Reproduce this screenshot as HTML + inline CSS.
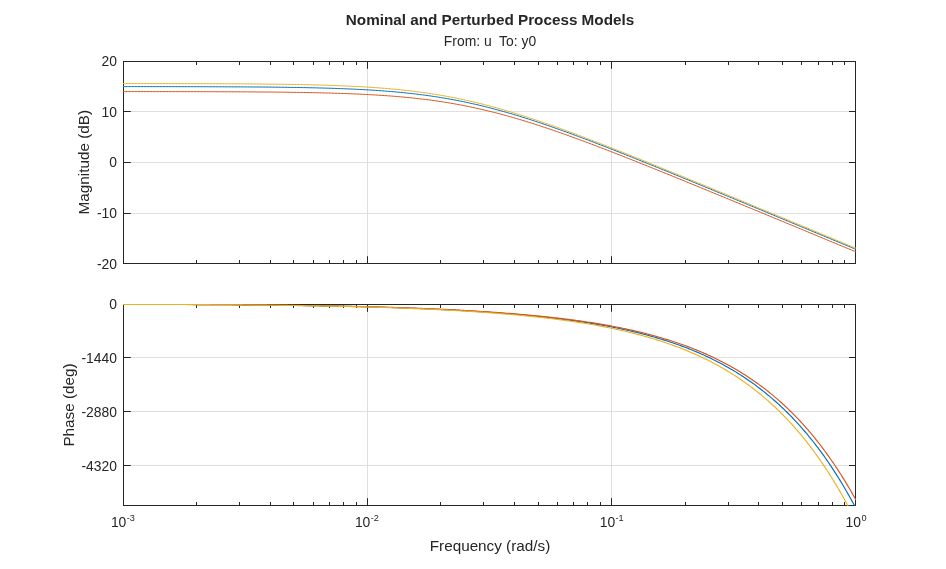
<!DOCTYPE html>
<html lang="en"><head><meta charset="utf-8"><title>Nominal and Perturbed Process Models</title>
<style>html,body{margin:0;padding:0;background:#fff;}body{width:946px;height:569px;overflow:hidden;}svg{display:block;}text{font-family:"Liberation Sans",sans-serif;fill:#262626;}</style></head><body>
<svg width="946" height="569" viewBox="0 0 946 569">
<rect width="946" height="569" fill="#fff"/>
<defs><clipPath id="c1"><rect x="123.0" y="61.0" width="733.0" height="203.0"/></clipPath><clipPath id="c2"><rect x="123.0" y="304.0" width="733.0" height="202.0"/></clipPath></defs>
<path d="M367.5,61.5 V263.5 M611.5,61.5 V263.5 M123.5,111.5 H855.5 M123.5,162.5 H855.5 M123.5,213.5 H855.5" stroke="#dfdfdf" stroke-width="1" fill="none" shape-rendering="crispEdges"/>
<path d="M123.5,61.5 H855.5 V263.5 H123.5 Z" stroke="#262626" stroke-width="1" fill="none" shape-rendering="crispEdges"/>
<path d="M123.5,264.0 v-7.8 M123.5,61.0 v7.8 M196.5,264.0 v-4.0 M196.5,61.0 v4.0 M239.5,264.0 v-4.0 M239.5,61.0 v4.0 M270.5,264.0 v-4.0 M270.5,61.0 v4.0 M293.5,264.0 v-4.0 M293.5,61.0 v4.0 M313.5,264.0 v-4.0 M313.5,61.0 v4.0 M329.5,264.0 v-4.0 M329.5,61.0 v4.0 M343.5,264.0 v-4.0 M343.5,61.0 v4.0 M356.5,264.0 v-4.0 M356.5,61.0 v4.0 M367.5,264.0 v-7.8 M367.5,61.0 v7.8 M440.5,264.0 v-4.0 M440.5,61.0 v4.0 M483.5,264.0 v-4.0 M483.5,61.0 v4.0 M514.5,264.0 v-4.0 M514.5,61.0 v4.0 M538.5,264.0 v-4.0 M538.5,61.0 v4.0 M557.5,264.0 v-4.0 M557.5,61.0 v4.0 M573.5,264.0 v-4.0 M573.5,61.0 v4.0 M587.5,264.0 v-4.0 M587.5,61.0 v4.0 M600.5,264.0 v-4.0 M600.5,61.0 v4.0 M611.5,264.0 v-7.8 M611.5,61.0 v7.8 M685.5,264.0 v-4.0 M685.5,61.0 v4.0 M728.5,264.0 v-4.0 M728.5,61.0 v4.0 M758.5,264.0 v-4.0 M758.5,61.0 v4.0 M782.5,264.0 v-4.0 M782.5,61.0 v4.0 M801.5,264.0 v-4.0 M801.5,61.0 v4.0 M818.5,264.0 v-4.0 M818.5,61.0 v4.0 M832.5,264.0 v-4.0 M832.5,61.0 v4.0 M844.5,264.0 v-4.0 M844.5,61.0 v4.0 M855.5,264.0 v-7.8 M855.5,61.0 v7.8 M123.0,61.5 h7.8 M856.0,61.5 h-7.0 M123.0,111.5 h7.8 M856.0,111.5 h-7.0 M123.0,162.5 h7.8 M856.0,162.5 h-7.0 M123.0,213.5 h7.8 M856.0,213.5 h-7.0 M123.0,263.5 h7.8 M856.0,263.5 h-7.0" stroke="#262626" stroke-width="1" fill="none"/>
<g clip-path="url(#c1)" fill="none" stroke-width="1.00" stroke-linejoin="round">
<path d="M122.90,86.59 L124.37,86.60 L125.84,86.60 L127.31,86.60 L128.78,86.60 L130.25,86.60 L131.72,86.60 L133.18,86.60 L134.65,86.60 L136.12,86.60 L137.59,86.61 L139.06,86.61 L140.53,86.61 L142.00,86.61 L143.47,86.61 L144.94,86.61 L146.41,86.61 L147.88,86.62 L149.35,86.62 L150.82,86.62 L152.28,86.62 L153.75,86.62 L155.22,86.62 L156.69,86.63 L158.16,86.63 L159.63,86.63 L161.10,86.63 L162.57,86.63 L164.04,86.64 L165.51,86.64 L166.98,86.64 L168.45,86.64 L169.92,86.65 L171.38,86.65 L172.85,86.65 L174.32,86.65 L175.79,86.66 L177.26,86.66 L178.73,86.66 L180.20,86.66 L181.67,86.67 L183.14,86.67 L184.61,86.67 L186.08,86.68 L187.55,86.68 L189.02,86.68 L190.48,86.69 L191.95,86.69 L193.42,86.69 L194.89,86.70 L196.36,86.70 L197.83,86.70 L199.30,86.71 L200.77,86.71 L202.24,86.72 L203.71,86.72 L205.18,86.73 L206.65,86.73 L208.12,86.74 L209.59,86.74 L211.05,86.75 L212.52,86.75 L213.99,86.76 L215.46,86.76 L216.93,86.77 L218.40,86.77 L219.87,86.78 L221.34,86.79 L222.81,86.79 L224.28,86.80 L225.75,86.80 L227.22,86.81 L228.69,86.82 L230.15,86.83 L231.62,86.83 L233.09,86.84 L234.56,86.85 L236.03,86.86 L237.50,86.87 L238.97,86.87 L240.44,86.88 L241.91,86.89 L243.38,86.90 L244.85,86.91 L246.32,86.92 L247.79,86.93 L249.25,86.94 L250.72,86.95 L252.19,86.96 L253.66,86.97 L255.13,86.99 L256.60,87.00 L258.07,87.01 L259.54,87.02 L261.01,87.03 L262.48,87.05 L263.95,87.06 L265.42,87.08 L266.89,87.09 L268.35,87.10 L269.82,87.12 L271.29,87.13 L272.76,87.15 L274.23,87.17 L275.70,87.18 L277.17,87.20 L278.64,87.22 L280.11,87.24 L281.58,87.26 L283.05,87.28 L284.52,87.30 L285.99,87.32 L287.45,87.34 L288.92,87.36 L290.39,87.38 L291.86,87.40 L293.33,87.43 L294.80,87.45 L296.27,87.47 L297.74,87.50 L299.21,87.52 L300.68,87.55 L302.15,87.58 L303.62,87.61 L305.09,87.64 L306.55,87.66 L308.02,87.70 L309.49,87.73 L310.96,87.76 L312.43,87.79 L313.90,87.82 L315.37,87.86 L316.84,87.89 L318.31,87.93 L319.78,87.97 L321.25,88.01 L322.72,88.05 L324.19,88.09 L325.65,88.13 L327.12,88.17 L328.59,88.21 L330.06,88.26 L331.53,88.30 L333.00,88.35 L334.47,88.40 L335.94,88.45 L337.41,88.50 L338.88,88.55 L340.35,88.60 L341.82,88.66 L343.29,88.72 L344.76,88.77 L346.22,88.83 L347.69,88.89 L349.16,88.96 L350.63,89.02 L352.10,89.08 L353.57,89.15 L355.04,89.22 L356.51,89.29 L357.98,89.36 L359.45,89.44 L360.92,89.51 L362.39,89.59 L363.86,89.67 L365.32,89.75 L366.79,89.83 L368.26,89.92 L369.73,90.00 L371.20,90.09 L372.67,90.19 L374.14,90.28 L375.61,90.38 L377.08,90.47 L378.55,90.57 L380.02,90.68 L381.49,90.78 L382.96,90.89 L384.42,91.00 L385.89,91.11 L387.36,91.23 L388.83,91.35 L390.30,91.47 L391.77,91.59 L393.24,91.71 L394.71,91.84 L396.18,91.98 L397.65,92.11 L399.12,92.25 L400.59,92.39 L402.06,92.53 L403.52,92.68 L404.99,92.83 L406.46,92.98 L407.93,93.13 L409.40,93.29 L410.87,93.46 L412.34,93.62 L413.81,93.79 L415.28,93.96 L416.75,94.14 L418.22,94.32 L419.69,94.50 L421.16,94.69 L422.62,94.88 L424.09,95.07 L425.56,95.27 L427.03,95.47 L428.50,95.67 L429.97,95.88 L431.44,96.10 L432.91,96.31 L434.38,96.53 L435.85,96.76 L437.32,96.98 L438.79,97.22 L440.26,97.45 L441.72,97.69 L443.19,97.94 L444.66,98.18 L446.13,98.44 L447.60,98.69 L449.07,98.95 L450.54,99.22 L452.01,99.49 L453.48,99.76 L454.95,100.04 L456.42,100.32 L457.89,100.60 L459.36,100.89 L460.82,101.19 L462.29,101.48 L463.76,101.79 L465.23,102.09 L466.70,102.40 L468.17,102.72 L469.64,103.04 L471.11,103.36 L472.58,103.69 L474.05,104.02 L475.52,104.36 L476.99,104.70 L478.46,105.04 L479.92,105.39 L481.39,105.74 L482.86,106.10 L484.33,106.46 L485.80,106.82 L487.27,107.19 L488.74,107.57 L490.21,107.94 L491.68,108.32 L493.15,108.71 L494.62,109.10 L496.09,109.49 L497.56,109.89 L499.03,110.29 L500.49,110.69 L501.96,111.10 L503.43,111.51 L504.90,111.93 L506.37,112.35 L507.84,112.77 L509.31,113.19 L510.78,113.62 L512.25,114.06 L513.72,114.49 L515.19,114.93 L516.66,115.38 L518.13,115.82 L519.59,116.27 L521.06,116.73 L522.53,117.18 L524.00,117.64 L525.47,118.11 L526.94,118.57 L528.41,119.04 L529.88,119.51 L531.35,119.99 L532.82,120.47 L534.29,120.95 L535.76,121.43 L537.23,121.92 L538.69,122.41 L540.16,122.90 L541.63,123.39 L543.10,123.89 L544.57,124.39 L546.04,124.89 L547.51,125.39 L548.98,125.90 L550.45,126.41 L551.92,126.92 L553.39,127.43 L554.86,127.95 L556.33,128.47 L557.79,128.99 L559.26,129.51 L560.73,130.03 L562.20,130.56 L563.67,131.09 L565.14,131.62 L566.61,132.15 L568.08,132.69 L569.55,133.22 L571.02,133.76 L572.49,134.30 L573.96,134.84 L575.43,135.38 L576.89,135.93 L578.36,136.47 L579.83,137.02 L581.30,137.57 L582.77,138.12 L584.24,138.67 L585.71,139.23 L587.18,139.78 L588.65,140.34 L590.12,140.90 L591.59,141.45 L593.06,142.01 L594.53,142.58 L595.99,143.14 L597.46,143.70 L598.93,144.27 L600.40,144.83 L601.87,145.40 L603.34,145.97 L604.81,146.54 L606.28,147.11 L607.75,147.68 L609.22,148.25 L610.69,148.83 L612.16,149.40 L613.63,149.98 L615.09,150.55 L616.56,151.13 L618.03,151.71 L619.50,152.29 L620.97,152.87 L622.44,153.45 L623.91,154.03 L625.38,154.61 L626.85,155.19 L628.32,155.78 L629.79,156.36 L631.26,156.95 L632.73,157.53 L634.19,158.12 L635.66,158.71 L637.13,159.29 L638.60,159.88 L640.07,160.47 L641.54,161.06 L643.01,161.65 L644.48,162.24 L645.95,162.83 L647.42,163.42 L648.89,164.01 L650.36,164.61 L651.83,165.20 L653.30,165.79 L654.76,166.38 L656.23,166.98 L657.70,167.57 L659.17,168.17 L660.64,168.76 L662.11,169.36 L663.58,169.96 L665.05,170.55 L666.52,171.15 L667.99,171.75 L669.46,172.34 L670.93,172.94 L672.40,173.54 L673.86,174.14 L675.33,174.74 L676.80,175.34 L678.27,175.94 L679.74,176.54 L681.21,177.14 L682.68,177.74 L684.15,178.34 L685.62,178.94 L687.09,179.54 L688.56,180.14 L690.03,180.74 L691.50,181.34 L692.96,181.95 L694.43,182.55 L695.90,183.15 L697.37,183.75 L698.84,184.36 L700.31,184.96 L701.78,185.56 L703.25,186.17 L704.72,186.77 L706.19,187.37 L707.66,187.98 L709.13,188.58 L710.60,189.19 L712.06,189.79 L713.53,190.40 L715.00,191.00 L716.47,191.61 L717.94,192.21 L719.41,192.82 L720.88,193.42 L722.35,194.03 L723.82,194.63 L725.29,195.24 L726.76,195.84 L728.23,196.45 L729.70,197.06 L731.16,197.66 L732.63,198.27 L734.10,198.87 L735.57,199.48 L737.04,200.09 L738.51,200.69 L739.98,201.30 L741.45,201.91 L742.92,202.52 L744.39,203.12 L745.86,203.73 L747.33,204.34 L748.80,204.94 L750.26,205.55 L751.73,206.16 L753.20,206.77 L754.67,207.37 L756.14,207.98 L757.61,208.59 L759.08,209.20 L760.55,209.81 L762.02,210.41 L763.49,211.02 L764.96,211.63 L766.43,212.24 L767.90,212.85 L769.36,213.45 L770.83,214.06 L772.30,214.67 L773.77,215.28 L775.24,215.89 L776.71,216.50 L778.18,217.11 L779.65,217.71 L781.12,218.32 L782.59,218.93 L784.06,219.54 L785.53,220.15 L787.00,220.76 L788.47,221.37 L789.93,221.98 L791.40,222.58 L792.87,223.19 L794.34,223.80 L795.81,224.41 L797.28,225.02 L798.75,225.63 L800.22,226.24 L801.69,226.85 L803.16,227.46 L804.63,228.07 L806.10,228.68 L807.57,229.28 L809.03,229.89 L810.50,230.50 L811.97,231.11 L813.44,231.72 L814.91,232.33 L816.38,232.94 L817.85,233.55 L819.32,234.16 L820.79,234.77 L822.26,235.38 L823.73,235.99 L825.20,236.60 L826.67,237.21 L828.13,237.82 L829.60,238.43 L831.07,239.04 L832.54,239.65 L834.01,240.26 L835.48,240.86 L836.95,241.47 L838.42,242.08 L839.89,242.69 L841.36,243.30 L842.83,243.91 L844.30,244.52 L845.77,245.13 L847.23,245.74 L848.70,246.35 L850.17,246.96 L851.64,247.57 L853.11,248.18 L854.58,248.79 L856.05,249.40" stroke="#0072bd"/>
<path d="M122.90,91.59 L124.37,91.59 L125.84,91.59 L127.31,91.59 L128.78,91.59 L130.25,91.59 L131.72,91.59 L133.18,91.59 L134.65,91.59 L136.12,91.60 L137.59,91.60 L139.06,91.60 L140.53,91.60 L142.00,91.60 L143.47,91.60 L144.94,91.60 L146.41,91.60 L147.88,91.61 L149.35,91.61 L150.82,91.61 L152.28,91.61 L153.75,91.61 L155.22,91.61 L156.69,91.61 L158.16,91.62 L159.63,91.62 L161.10,91.62 L162.57,91.62 L164.04,91.62 L165.51,91.63 L166.98,91.63 L168.45,91.63 L169.92,91.63 L171.38,91.63 L172.85,91.64 L174.32,91.64 L175.79,91.64 L177.26,91.64 L178.73,91.65 L180.20,91.65 L181.67,91.65 L183.14,91.65 L184.61,91.66 L186.08,91.66 L187.55,91.66 L189.02,91.66 L190.48,91.67 L191.95,91.67 L193.42,91.67 L194.89,91.68 L196.36,91.68 L197.83,91.68 L199.30,91.69 L200.77,91.69 L202.24,91.70 L203.71,91.70 L205.18,91.70 L206.65,91.71 L208.12,91.71 L209.59,91.72 L211.05,91.72 L212.52,91.73 L213.99,91.73 L215.46,91.74 L216.93,91.74 L218.40,91.75 L219.87,91.75 L221.34,91.76 L222.81,91.76 L224.28,91.77 L225.75,91.77 L227.22,91.78 L228.69,91.79 L230.15,91.79 L231.62,91.80 L233.09,91.81 L234.56,91.81 L236.03,91.82 L237.50,91.83 L238.97,91.84 L240.44,91.84 L241.91,91.85 L243.38,91.86 L244.85,91.87 L246.32,91.88 L247.79,91.89 L249.25,91.90 L250.72,91.91 L252.19,91.92 L253.66,91.93 L255.13,91.94 L256.60,91.95 L258.07,91.96 L259.54,91.97 L261.01,91.98 L262.48,91.99 L263.95,92.00 L265.42,92.02 L266.89,92.03 L268.35,92.04 L269.82,92.06 L271.29,92.07 L272.76,92.08 L274.23,92.10 L275.70,92.11 L277.17,92.13 L278.64,92.15 L280.11,92.16 L281.58,92.18 L283.05,92.20 L284.52,92.21 L285.99,92.23 L287.45,92.25 L288.92,92.27 L290.39,92.29 L291.86,92.31 L293.33,92.33 L294.80,92.35 L296.27,92.37 L297.74,92.40 L299.21,92.42 L300.68,92.44 L302.15,92.47 L303.62,92.49 L305.09,92.52 L306.55,92.55 L308.02,92.57 L309.49,92.60 L310.96,92.63 L312.43,92.66 L313.90,92.69 L315.37,92.72 L316.84,92.75 L318.31,92.78 L319.78,92.82 L321.25,92.85 L322.72,92.89 L324.19,92.92 L325.65,92.96 L327.12,93.00 L328.59,93.04 L330.06,93.08 L331.53,93.12 L333.00,93.16 L334.47,93.21 L335.94,93.25 L337.41,93.30 L338.88,93.34 L340.35,93.39 L341.82,93.44 L343.29,93.49 L344.76,93.54 L346.22,93.60 L347.69,93.65 L349.16,93.71 L350.63,93.77 L352.10,93.82 L353.57,93.88 L355.04,93.95 L356.51,94.01 L357.98,94.08 L359.45,94.14 L360.92,94.21 L362.39,94.28 L363.86,94.35 L365.32,94.43 L366.79,94.50 L368.26,94.58 L369.73,94.66 L371.20,94.74 L372.67,94.82 L374.14,94.91 L375.61,94.99 L377.08,95.08 L378.55,95.18 L380.02,95.27 L381.49,95.36 L382.96,95.46 L384.42,95.56 L385.89,95.67 L387.36,95.77 L388.83,95.88 L390.30,95.99 L391.77,96.10 L393.24,96.22 L394.71,96.33 L396.18,96.45 L397.65,96.58 L399.12,96.70 L400.59,96.83 L402.06,96.96 L403.52,97.10 L404.99,97.23 L406.46,97.37 L407.93,97.52 L409.40,97.66 L410.87,97.81 L412.34,97.96 L413.81,98.12 L415.28,98.28 L416.75,98.44 L418.22,98.61 L419.69,98.78 L421.16,98.95 L422.62,99.12 L424.09,99.30 L425.56,99.48 L427.03,99.67 L428.50,99.86 L429.97,100.05 L431.44,100.25 L432.91,100.45 L434.38,100.66 L435.85,100.86 L437.32,101.08 L438.79,101.29 L440.26,101.51 L441.72,101.74 L443.19,101.96 L444.66,102.20 L446.13,102.43 L447.60,102.67 L449.07,102.92 L450.54,103.16 L452.01,103.41 L453.48,103.67 L454.95,103.93 L456.42,104.20 L457.89,104.46 L459.36,104.74 L460.82,105.01 L462.29,105.29 L463.76,105.58 L465.23,105.87 L466.70,106.16 L468.17,106.46 L469.64,106.76 L471.11,107.07 L472.58,107.38 L474.05,107.69 L475.52,108.01 L476.99,108.34 L478.46,108.66 L479.92,108.99 L481.39,109.33 L482.86,109.67 L484.33,110.01 L485.80,110.36 L487.27,110.71 L488.74,111.07 L490.21,111.43 L491.68,111.80 L493.15,112.16 L494.62,112.54 L496.09,112.91 L497.56,113.29 L499.03,113.68 L500.49,114.07 L501.96,114.46 L503.43,114.86 L504.90,115.26 L506.37,115.66 L507.84,116.07 L509.31,116.48 L510.78,116.90 L512.25,117.31 L513.72,117.74 L515.19,118.16 L516.66,118.59 L518.13,119.02 L519.59,119.46 L521.06,119.90 L522.53,120.34 L524.00,120.79 L525.47,121.24 L526.94,121.69 L528.41,122.15 L529.88,122.61 L531.35,123.07 L532.82,123.54 L534.29,124.01 L535.76,124.48 L537.23,124.95 L538.69,125.43 L540.16,125.91 L541.63,126.39 L543.10,126.88 L544.57,127.37 L546.04,127.86 L547.51,128.35 L548.98,128.85 L550.45,129.35 L551.92,129.85 L553.39,130.36 L554.86,130.86 L556.33,131.37 L557.79,131.88 L559.26,132.40 L560.73,132.91 L562.20,133.43 L563.67,133.95 L565.14,134.47 L566.61,135.00 L568.08,135.52 L569.55,136.05 L571.02,136.58 L572.49,137.11 L573.96,137.65 L575.43,138.18 L576.89,138.72 L578.36,139.26 L579.83,139.80 L581.30,140.34 L582.77,140.89 L584.24,141.43 L585.71,141.98 L587.18,142.53 L588.65,143.08 L590.12,143.63 L591.59,144.19 L593.06,144.74 L594.53,145.30 L595.99,145.85 L597.46,146.41 L598.93,146.97 L600.40,147.54 L601.87,148.10 L603.34,148.66 L604.81,149.23 L606.28,149.79 L607.75,150.36 L609.22,150.93 L610.69,151.50 L612.16,152.07 L613.63,152.64 L615.09,153.21 L616.56,153.79 L618.03,154.36 L619.50,154.94 L620.97,155.51 L622.44,156.09 L623.91,156.67 L625.38,157.25 L626.85,157.83 L628.32,158.41 L629.79,158.99 L631.26,159.57 L632.73,160.15 L634.19,160.74 L635.66,161.32 L637.13,161.90 L638.60,162.49 L640.07,163.08 L641.54,163.66 L643.01,164.25 L644.48,164.84 L645.95,165.43 L647.42,166.02 L648.89,166.61 L650.36,167.20 L651.83,167.79 L653.30,168.38 L654.76,168.97 L656.23,169.56 L657.70,170.15 L659.17,170.75 L660.64,171.34 L662.11,171.94 L663.58,172.53 L665.05,173.13 L666.52,173.72 L667.99,174.32 L669.46,174.91 L670.93,175.51 L672.40,176.11 L673.86,176.70 L675.33,177.30 L676.80,177.90 L678.27,178.50 L679.74,179.10 L681.21,179.69 L682.68,180.29 L684.15,180.89 L685.62,181.49 L687.09,182.09 L688.56,182.69 L690.03,183.29 L691.50,183.89 L692.96,184.50 L694.43,185.10 L695.90,185.70 L697.37,186.30 L698.84,186.90 L700.31,187.50 L701.78,188.11 L703.25,188.71 L704.72,189.31 L706.19,189.92 L707.66,190.52 L709.13,191.12 L710.60,191.73 L712.06,192.33 L713.53,192.93 L715.00,193.54 L716.47,194.14 L717.94,194.75 L719.41,195.35 L720.88,195.96 L722.35,196.56 L723.82,197.17 L725.29,197.77 L726.76,198.38 L728.23,198.98 L729.70,199.59 L731.16,200.19 L732.63,200.80 L734.10,201.41 L735.57,202.01 L737.04,202.62 L738.51,203.22 L739.98,203.83 L741.45,204.44 L742.92,205.04 L744.39,205.65 L745.86,206.26 L747.33,206.86 L748.80,207.47 L750.26,208.08 L751.73,208.69 L753.20,209.29 L754.67,209.90 L756.14,210.51 L757.61,211.12 L759.08,211.72 L760.55,212.33 L762.02,212.94 L763.49,213.55 L764.96,214.15 L766.43,214.76 L767.90,215.37 L769.36,215.98 L770.83,216.59 L772.30,217.19 L773.77,217.80 L775.24,218.41 L776.71,219.02 L778.18,219.63 L779.65,220.24 L781.12,220.84 L782.59,221.45 L784.06,222.06 L785.53,222.67 L787.00,223.28 L788.47,223.89 L789.93,224.50 L791.40,225.10 L792.87,225.71 L794.34,226.32 L795.81,226.93 L797.28,227.54 L798.75,228.15 L800.22,228.76 L801.69,229.37 L803.16,229.98 L804.63,230.59 L806.10,231.19 L807.57,231.80 L809.03,232.41 L810.50,233.02 L811.97,233.63 L813.44,234.24 L814.91,234.85 L816.38,235.46 L817.85,236.07 L819.32,236.68 L820.79,237.29 L822.26,237.90 L823.73,238.51 L825.20,239.12 L826.67,239.72 L828.13,240.33 L829.60,240.94 L831.07,241.55 L832.54,242.16 L834.01,242.77 L835.48,243.38 L836.95,243.99 L838.42,244.60 L839.89,245.21 L841.36,245.82 L842.83,246.43 L844.30,247.04 L845.77,247.65 L847.23,248.26 L848.70,248.87 L850.17,249.48 L851.64,250.09 L853.11,250.70 L854.58,251.31 L856.05,251.92" stroke="#d95319"/>
<path d="M122.90,83.56 L124.37,83.56 L125.84,83.56 L127.31,83.56 L128.78,83.56 L130.25,83.56 L131.72,83.56 L133.18,83.56 L134.65,83.57 L136.12,83.57 L137.59,83.57 L139.06,83.57 L140.53,83.57 L142.00,83.57 L143.47,83.57 L144.94,83.58 L146.41,83.58 L147.88,83.58 L149.35,83.58 L150.82,83.58 L152.28,83.59 L153.75,83.59 L155.22,83.59 L156.69,83.59 L158.16,83.59 L159.63,83.60 L161.10,83.60 L162.57,83.60 L164.04,83.60 L165.51,83.60 L166.98,83.61 L168.45,83.61 L169.92,83.61 L171.38,83.61 L172.85,83.62 L174.32,83.62 L175.79,83.62 L177.26,83.63 L178.73,83.63 L180.20,83.63 L181.67,83.64 L183.14,83.64 L184.61,83.64 L186.08,83.65 L187.55,83.65 L189.02,83.65 L190.48,83.66 L191.95,83.66 L193.42,83.66 L194.89,83.67 L196.36,83.67 L197.83,83.68 L199.30,83.68 L200.77,83.69 L202.24,83.69 L203.71,83.70 L205.18,83.70 L206.65,83.71 L208.12,83.71 L209.59,83.72 L211.05,83.72 L212.52,83.73 L213.99,83.73 L215.46,83.74 L216.93,83.75 L218.40,83.75 L219.87,83.76 L221.34,83.76 L222.81,83.77 L224.28,83.78 L225.75,83.79 L227.22,83.79 L228.69,83.80 L230.15,83.81 L231.62,83.82 L233.09,83.83 L234.56,83.83 L236.03,83.84 L237.50,83.85 L238.97,83.86 L240.44,83.87 L241.91,83.88 L243.38,83.89 L244.85,83.90 L246.32,83.91 L247.79,83.92 L249.25,83.93 L250.72,83.95 L252.19,83.96 L253.66,83.97 L255.13,83.98 L256.60,84.00 L258.07,84.01 L259.54,84.02 L261.01,84.04 L262.48,84.05 L263.95,84.07 L265.42,84.08 L266.89,84.10 L268.35,84.11 L269.82,84.13 L271.29,84.15 L272.76,84.16 L274.23,84.18 L275.70,84.20 L277.17,84.22 L278.64,84.24 L280.11,84.26 L281.58,84.28 L283.05,84.30 L284.52,84.32 L285.99,84.34 L287.45,84.36 L288.92,84.39 L290.39,84.41 L291.86,84.44 L293.33,84.46 L294.80,84.49 L296.27,84.51 L297.74,84.54 L299.21,84.57 L300.68,84.60 L302.15,84.63 L303.62,84.66 L305.09,84.69 L306.55,84.72 L308.02,84.76 L309.49,84.79 L310.96,84.82 L312.43,84.86 L313.90,84.90 L315.37,84.93 L316.84,84.97 L318.31,85.01 L319.78,85.05 L321.25,85.09 L322.72,85.14 L324.19,85.18 L325.65,85.22 L327.12,85.27 L328.59,85.32 L330.06,85.37 L331.53,85.42 L333.00,85.47 L334.47,85.52 L335.94,85.57 L337.41,85.63 L338.88,85.68 L340.35,85.74 L341.82,85.80 L343.29,85.86 L344.76,85.92 L346.22,85.99 L347.69,86.05 L349.16,86.12 L350.63,86.19 L352.10,86.26 L353.57,86.33 L355.04,86.41 L356.51,86.48 L357.98,86.56 L359.45,86.64 L360.92,86.72 L362.39,86.81 L363.86,86.89 L365.32,86.98 L366.79,87.07 L368.26,87.16 L369.73,87.25 L371.20,87.35 L372.67,87.45 L374.14,87.55 L375.61,87.65 L377.08,87.76 L378.55,87.87 L380.02,87.98 L381.49,88.09 L382.96,88.21 L384.42,88.32 L385.89,88.44 L387.36,88.57 L388.83,88.69 L390.30,88.82 L391.77,88.96 L393.24,89.09 L394.71,89.23 L396.18,89.37 L397.65,89.51 L399.12,89.66 L400.59,89.81 L402.06,89.96 L403.52,90.12 L404.99,90.28 L406.46,90.44 L407.93,90.61 L409.40,90.78 L410.87,90.95 L412.34,91.13 L413.81,91.31 L415.28,91.49 L416.75,91.68 L418.22,91.87 L419.69,92.06 L421.16,92.26 L422.62,92.46 L424.09,92.67 L425.56,92.88 L427.03,93.09 L428.50,93.31 L429.97,93.53 L431.44,93.75 L432.91,93.98 L434.38,94.21 L435.85,94.45 L437.32,94.69 L438.79,94.93 L440.26,95.18 L441.72,95.44 L443.19,95.69 L444.66,95.95 L446.13,96.22 L447.60,96.49 L449.07,96.76 L450.54,97.04 L452.01,97.32 L453.48,97.61 L454.95,97.90 L456.42,98.19 L457.89,98.49 L459.36,98.80 L460.82,99.10 L462.29,99.41 L463.76,99.73 L465.23,100.05 L466.70,100.37 L468.17,100.70 L469.64,101.03 L471.11,101.37 L472.58,101.71 L474.05,102.06 L475.52,102.41 L476.99,102.76 L478.46,103.12 L479.92,103.48 L481.39,103.84 L482.86,104.21 L484.33,104.59 L485.80,104.96 L487.27,105.35 L488.74,105.73 L490.21,106.12 L491.68,106.51 L493.15,106.91 L494.62,107.31 L496.09,107.72 L497.56,108.13 L499.03,108.54 L500.49,108.95 L501.96,109.37 L503.43,109.80 L504.90,110.22 L506.37,110.65 L507.84,111.09 L509.31,111.53 L510.78,111.97 L512.25,112.41 L513.72,112.86 L515.19,113.31 L516.66,113.76 L518.13,114.22 L519.59,114.68 L521.06,115.14 L522.53,115.61 L524.00,116.08 L525.47,116.55 L526.94,117.03 L528.41,117.50 L529.88,117.99 L531.35,118.47 L532.82,118.96 L534.29,119.45 L535.76,119.94 L537.23,120.43 L538.69,120.93 L540.16,121.43 L541.63,121.93 L543.10,122.44 L544.57,122.94 L546.04,123.45 L547.51,123.96 L548.98,124.48 L550.45,124.99 L551.92,125.51 L553.39,126.03 L554.86,126.56 L556.33,127.08 L557.79,127.61 L559.26,128.14 L560.73,128.67 L562.20,129.20 L563.67,129.73 L565.14,130.27 L566.61,130.81 L568.08,131.35 L569.55,131.89 L571.02,132.43 L572.49,132.98 L573.96,133.52 L575.43,134.07 L576.89,134.62 L578.36,135.17 L579.83,135.72 L581.30,136.28 L582.77,136.83 L584.24,137.39 L585.71,137.95 L587.18,138.51 L588.65,139.07 L590.12,139.63 L591.59,140.19 L593.06,140.75 L594.53,141.32 L595.99,141.89 L597.46,142.45 L598.93,143.02 L600.40,143.59 L601.87,144.16 L603.34,144.73 L604.81,145.31 L606.28,145.88 L607.75,146.46 L609.22,147.03 L610.69,147.61 L612.16,148.19 L613.63,148.76 L615.09,149.34 L616.56,149.92 L618.03,150.50 L619.50,151.08 L620.97,151.67 L622.44,152.25 L623.91,152.83 L625.38,153.42 L626.85,154.00 L628.32,154.59 L629.79,155.17 L631.26,155.76 L632.73,156.35 L634.19,156.94 L635.66,157.53 L637.13,158.11 L638.60,158.70 L640.07,159.29 L641.54,159.89 L643.01,160.48 L644.48,161.07 L645.95,161.66 L647.42,162.25 L648.89,162.85 L650.36,163.44 L651.83,164.04 L653.30,164.63 L654.76,165.23 L656.23,165.82 L657.70,166.42 L659.17,167.01 L660.64,167.61 L662.11,168.21 L663.58,168.80 L665.05,169.40 L666.52,170.00 L667.99,170.60 L669.46,171.20 L670.93,171.79 L672.40,172.39 L673.86,172.99 L675.33,173.59 L676.80,174.19 L678.27,174.79 L679.74,175.39 L681.21,176.00 L682.68,176.60 L684.15,177.20 L685.62,177.80 L687.09,178.40 L688.56,179.00 L690.03,179.61 L691.50,180.21 L692.96,180.81 L694.43,181.41 L695.90,182.02 L697.37,182.62 L698.84,183.22 L700.31,183.83 L701.78,184.43 L703.25,185.04 L704.72,185.64 L706.19,186.24 L707.66,186.85 L709.13,187.45 L710.60,188.06 L712.06,188.66 L713.53,189.27 L715.00,189.87 L716.47,190.48 L717.94,191.08 L719.41,191.69 L720.88,192.30 L722.35,192.90 L723.82,193.51 L725.29,194.11 L726.76,194.72 L728.23,195.33 L729.70,195.93 L731.16,196.54 L732.63,197.15 L734.10,197.75 L735.57,198.36 L737.04,198.97 L738.51,199.57 L739.98,200.18 L741.45,200.79 L742.92,201.40 L744.39,202.00 L745.86,202.61 L747.33,203.22 L748.80,203.83 L750.26,204.43 L751.73,205.04 L753.20,205.65 L754.67,206.26 L756.14,206.86 L757.61,207.47 L759.08,208.08 L760.55,208.69 L762.02,209.30 L763.49,209.90 L764.96,210.51 L766.43,211.12 L767.90,211.73 L769.36,212.34 L770.83,212.95 L772.30,213.56 L773.77,214.16 L775.24,214.77 L776.71,215.38 L778.18,215.99 L779.65,216.60 L781.12,217.21 L782.59,217.82 L784.06,218.43 L785.53,219.03 L787.00,219.64 L788.47,220.25 L789.93,220.86 L791.40,221.47 L792.87,222.08 L794.34,222.69 L795.81,223.30 L797.28,223.91 L798.75,224.52 L800.22,225.12 L801.69,225.73 L803.16,226.34 L804.63,226.95 L806.10,227.56 L807.57,228.17 L809.03,228.78 L810.50,229.39 L811.97,230.00 L813.44,230.61 L814.91,231.22 L816.38,231.83 L817.85,232.44 L819.32,233.05 L820.79,233.66 L822.26,234.27 L823.73,234.88 L825.20,235.49 L826.67,236.09 L828.13,236.70 L829.60,237.31 L831.07,237.92 L832.54,238.53 L834.01,239.14 L835.48,239.75 L836.95,240.36 L838.42,240.97 L839.89,241.58 L841.36,242.19 L842.83,242.80 L844.30,243.41 L845.77,244.02 L847.23,244.63 L848.70,245.24 L850.17,245.85 L851.64,246.46 L853.11,247.07 L854.58,247.68 L856.05,248.29" stroke="#edb120"/>
</g>
<text x="117.0" y="66.3" font-size="13.89" text-anchor="end">20</text>
<text x="117.0" y="117.3" font-size="13.89" text-anchor="end">10</text>
<text x="117.0" y="167.3" font-size="13.89" text-anchor="end">0</text>
<text x="117.0" y="218.3" font-size="13.89" text-anchor="end">-10</text>
<text x="117.0" y="269.3" font-size="13.89" text-anchor="end">-20</text>
<path d="M367.5,304.5 V505.5 M611.5,304.5 V505.5 M123.5,357.5 H855.5 M123.5,411.5 H855.5 M123.5,465.5 H855.5" stroke="#dfdfdf" stroke-width="1" fill="none" shape-rendering="crispEdges"/>
<path d="M123.5,304.5 H855.5 V505.5 H123.5 Z" stroke="#262626" stroke-width="1" fill="none" shape-rendering="crispEdges"/>
<path d="M123.5,506.0 v-7.8 M123.5,304.0 v7.8 M196.5,506.0 v-4.0 M196.5,304.0 v4.0 M239.5,506.0 v-4.0 M239.5,304.0 v4.0 M270.5,506.0 v-4.0 M270.5,304.0 v4.0 M293.5,506.0 v-4.0 M293.5,304.0 v4.0 M313.5,506.0 v-4.0 M313.5,304.0 v4.0 M329.5,506.0 v-4.0 M329.5,304.0 v4.0 M343.5,506.0 v-4.0 M343.5,304.0 v4.0 M356.5,506.0 v-4.0 M356.5,304.0 v4.0 M367.5,506.0 v-7.8 M367.5,304.0 v7.8 M440.5,506.0 v-4.0 M440.5,304.0 v4.0 M483.5,506.0 v-4.0 M483.5,304.0 v4.0 M514.5,506.0 v-4.0 M514.5,304.0 v4.0 M538.5,506.0 v-4.0 M538.5,304.0 v4.0 M557.5,506.0 v-4.0 M557.5,304.0 v4.0 M573.5,506.0 v-4.0 M573.5,304.0 v4.0 M587.5,506.0 v-4.0 M587.5,304.0 v4.0 M600.5,506.0 v-4.0 M600.5,304.0 v4.0 M611.5,506.0 v-7.8 M611.5,304.0 v7.8 M685.5,506.0 v-4.0 M685.5,304.0 v4.0 M728.5,506.0 v-4.0 M728.5,304.0 v4.0 M758.5,506.0 v-4.0 M758.5,304.0 v4.0 M782.5,506.0 v-4.0 M782.5,304.0 v4.0 M801.5,506.0 v-4.0 M801.5,304.0 v4.0 M818.5,506.0 v-4.0 M818.5,304.0 v4.0 M832.5,506.0 v-4.0 M832.5,304.0 v4.0 M844.5,506.0 v-4.0 M844.5,304.0 v4.0 M855.5,506.0 v-7.8 M855.5,304.0 v7.8 M123.0,304.5 h7.8 M856.0,304.5 h-7.0 M123.0,357.5 h7.8 M856.0,357.5 h-7.0 M123.0,411.5 h7.8 M856.0,411.5 h-7.0 M123.0,465.5 h7.8 M856.0,465.5 h-7.0" stroke="#262626" stroke-width="1" fill="none"/>
<g clip-path="url(#c2)" fill="none" stroke-width="1.15" stroke-linejoin="round">
<path d="M122.90,304.29 L124.37,304.29 L125.84,304.30 L127.31,304.30 L128.78,304.30 L130.25,304.31 L131.72,304.31 L133.18,304.32 L134.65,304.32 L136.12,304.33 L137.59,304.33 L139.06,304.33 L140.53,304.34 L142.00,304.34 L143.47,304.35 L144.94,304.35 L146.41,304.36 L147.88,304.36 L149.35,304.37 L150.82,304.37 L152.28,304.38 L153.75,304.38 L155.22,304.39 L156.69,304.40 L158.16,304.40 L159.63,304.41 L161.10,304.41 L162.57,304.42 L164.04,304.42 L165.51,304.43 L166.98,304.44 L168.45,304.44 L169.92,304.45 L171.38,304.45 L172.85,304.46 L174.32,304.47 L175.79,304.47 L177.26,304.48 L178.73,304.49 L180.20,304.49 L181.67,304.50 L183.14,304.51 L184.61,304.51 L186.08,304.52 L187.55,304.53 L189.02,304.54 L190.48,304.54 L191.95,304.55 L193.42,304.56 L194.89,304.57 L196.36,304.57 L197.83,304.58 L199.30,304.59 L200.77,304.60 L202.24,304.61 L203.71,304.61 L205.18,304.62 L206.65,304.63 L208.12,304.64 L209.59,304.65 L211.05,304.66 L212.52,304.67 L213.99,304.68 L215.46,304.69 L216.93,304.70 L218.40,304.71 L219.87,304.72 L221.34,304.73 L222.81,304.74 L224.28,304.75 L225.75,304.76 L227.22,304.77 L228.69,304.78 L230.15,304.79 L231.62,304.80 L233.09,304.81 L234.56,304.82 L236.03,304.83 L237.50,304.84 L238.97,304.86 L240.44,304.87 L241.91,304.88 L243.38,304.89 L244.85,304.91 L246.32,304.92 L247.79,304.93 L249.25,304.94 L250.72,304.96 L252.19,304.97 L253.66,304.98 L255.13,305.00 L256.60,305.01 L258.07,305.03 L259.54,305.04 L261.01,305.05 L262.48,305.07 L263.95,305.08 L265.42,305.10 L266.89,305.11 L268.35,305.13 L269.82,305.14 L271.29,305.16 L272.76,305.18 L274.23,305.19 L275.70,305.21 L277.17,305.23 L278.64,305.24 L280.11,305.26 L281.58,305.28 L283.05,305.30 L284.52,305.31 L285.99,305.33 L287.45,305.35 L288.92,305.37 L290.39,305.39 L291.86,305.41 L293.33,305.43 L294.80,305.45 L296.27,305.47 L297.74,305.49 L299.21,305.51 L300.68,305.53 L302.15,305.55 L303.62,305.57 L305.09,305.59 L306.55,305.61 L308.02,305.64 L309.49,305.66 L310.96,305.68 L312.43,305.70 L313.90,305.73 L315.37,305.75 L316.84,305.78 L318.31,305.80 L319.78,305.83 L321.25,305.85 L322.72,305.88 L324.19,305.90 L325.65,305.93 L327.12,305.95 L328.59,305.98 L330.06,306.01 L331.53,306.04 L333.00,306.06 L334.47,306.09 L335.94,306.12 L337.41,306.15 L338.88,306.18 L340.35,306.21 L341.82,306.24 L343.29,306.27 L344.76,306.30 L346.22,306.33 L347.69,306.36 L349.16,306.40 L350.63,306.43 L352.10,306.46 L353.57,306.50 L355.04,306.53 L356.51,306.56 L357.98,306.60 L359.45,306.64 L360.92,306.67 L362.39,306.71 L363.86,306.74 L365.32,306.78 L366.79,306.82 L368.26,306.86 L369.73,306.90 L371.20,306.94 L372.67,306.97 L374.14,307.02 L375.61,307.06 L377.08,307.10 L378.55,307.14 L380.02,307.18 L381.49,307.22 L382.96,307.27 L384.42,307.31 L385.89,307.36 L387.36,307.40 L388.83,307.45 L390.30,307.49 L391.77,307.54 L393.24,307.59 L394.71,307.63 L396.18,307.68 L397.65,307.73 L399.12,307.78 L400.59,307.83 L402.06,307.88 L403.52,307.93 L404.99,307.99 L406.46,308.04 L407.93,308.09 L409.40,308.15 L410.87,308.20 L412.34,308.26 L413.81,308.31 L415.28,308.37 L416.75,308.43 L418.22,308.49 L419.69,308.55 L421.16,308.61 L422.62,308.67 L424.09,308.73 L425.56,308.79 L427.03,308.85 L428.50,308.91 L429.97,308.98 L431.44,309.04 L432.91,309.11 L434.38,309.18 L435.85,309.24 L437.32,309.31 L438.79,309.38 L440.26,309.45 L441.72,309.52 L443.19,309.59 L444.66,309.66 L446.13,309.73 L447.60,309.81 L449.07,309.88 L450.54,309.96 L452.01,310.03 L453.48,310.11 L454.95,310.19 L456.42,310.27 L457.89,310.35 L459.36,310.43 L460.82,310.51 L462.29,310.59 L463.76,310.68 L465.23,310.76 L466.70,310.85 L468.17,310.93 L469.64,311.02 L471.11,311.11 L472.58,311.20 L474.05,311.29 L475.52,311.38 L476.99,311.47 L478.46,311.57 L479.92,311.66 L481.39,311.76 L482.86,311.85 L484.33,311.95 L485.80,312.05 L487.27,312.15 L488.74,312.25 L490.21,312.35 L491.68,312.46 L493.15,312.56 L494.62,312.67 L496.09,312.78 L497.56,312.88 L499.03,312.99 L500.49,313.11 L501.96,313.22 L503.43,313.33 L504.90,313.45 L506.37,313.56 L507.84,313.68 L509.31,313.80 L510.78,313.92 L512.25,314.04 L513.72,314.17 L515.19,314.29 L516.66,314.42 L518.13,314.54 L519.59,314.67 L521.06,314.80 L522.53,314.94 L524.00,315.07 L525.47,315.21 L526.94,315.34 L528.41,315.48 L529.88,315.62 L531.35,315.76 L532.82,315.91 L534.29,316.05 L535.76,316.20 L537.23,316.35 L538.69,316.50 L540.16,316.65 L541.63,316.81 L543.10,316.97 L544.57,317.12 L546.04,317.28 L547.51,317.45 L548.98,317.61 L550.45,317.78 L551.92,317.95 L553.39,318.12 L554.86,318.29 L556.33,318.46 L557.79,318.64 L559.26,318.82 L560.73,319.00 L562.20,319.19 L563.67,319.37 L565.14,319.56 L566.61,319.75 L568.08,319.94 L569.55,320.14 L571.02,320.34 L572.49,320.54 L573.96,320.74 L575.43,320.95 L576.89,321.16 L578.36,321.37 L579.83,321.58 L581.30,321.80 L582.77,322.02 L584.24,322.24 L585.71,322.47 L587.18,322.69 L588.65,322.93 L590.12,323.16 L591.59,323.40 L593.06,323.64 L594.53,323.88 L595.99,324.13 L597.46,324.38 L598.93,324.63 L600.40,324.89 L601.87,325.15 L603.34,325.41 L604.81,325.68 L606.28,325.95 L607.75,326.22 L609.22,326.50 L610.69,326.78 L612.16,327.06 L613.63,327.35 L615.09,327.65 L616.56,327.94 L618.03,328.24 L619.50,328.55 L620.97,328.86 L622.44,329.17 L623.91,329.49 L625.38,329.81 L626.85,330.13 L628.32,330.46 L629.79,330.80 L631.26,331.13 L632.73,331.48 L634.19,331.83 L635.66,332.18 L637.13,332.54 L638.60,332.90 L640.07,333.26 L641.54,333.64 L643.01,334.01 L644.48,334.40 L645.95,334.78 L647.42,335.18 L648.89,335.57 L650.36,335.98 L651.83,336.39 L653.30,336.80 L654.76,337.22 L656.23,337.65 L657.70,338.08 L659.17,338.52 L660.64,338.96 L662.11,339.41 L663.58,339.86 L665.05,340.33 L666.52,340.79 L667.99,341.27 L669.46,341.75 L670.93,342.24 L672.40,342.73 L673.86,343.23 L675.33,343.74 L676.80,344.26 L678.27,344.78 L679.74,345.31 L681.21,345.85 L682.68,346.39 L684.15,346.94 L685.62,347.50 L687.09,348.07 L688.56,348.64 L690.03,349.22 L691.50,349.81 L692.96,350.41 L694.43,351.02 L695.90,351.63 L697.37,352.26 L698.84,352.89 L700.31,353.53 L701.78,354.18 L703.25,354.84 L704.72,355.51 L706.19,356.19 L707.66,356.87 L709.13,357.57 L710.60,358.27 L712.06,358.99 L713.53,359.71 L715.00,360.45 L716.47,361.19 L717.94,361.95 L719.41,362.72 L720.88,363.49 L722.35,364.28 L723.82,365.08 L725.29,365.89 L726.76,366.71 L728.23,367.54 L729.70,368.39 L731.16,369.24 L732.63,370.11 L734.10,370.99 L735.57,371.88 L737.04,372.78 L738.51,373.70 L739.98,374.63 L741.45,375.57 L742.92,376.53 L744.39,377.49 L745.86,378.48 L747.33,379.47 L748.80,380.48 L750.26,381.50 L751.73,382.54 L753.20,383.59 L754.67,384.66 L756.14,385.74 L757.61,386.84 L759.08,387.95 L760.55,389.08 L762.02,390.22 L763.49,391.38 L764.96,392.55 L766.43,393.74 L767.90,394.95 L769.36,396.17 L770.83,397.41 L772.30,398.67 L773.77,399.95 L775.24,401.24 L776.71,402.55 L778.18,403.88 L779.65,405.23 L781.12,406.60 L782.59,407.99 L784.06,409.39 L785.53,410.82 L787.00,412.26 L788.47,413.73 L789.93,415.21 L791.40,416.72 L792.87,418.25 L794.34,419.79 L795.81,421.36 L797.28,422.96 L798.75,424.57 L800.22,426.21 L801.69,427.86 L803.16,429.55 L804.63,431.25 L806.10,432.98 L807.57,434.74 L809.03,436.51 L810.50,438.32 L811.97,440.14 L813.44,442.00 L814.91,443.88 L816.38,445.78 L817.85,447.71 L819.32,449.67 L820.79,451.66 L822.26,453.67 L823.73,455.71 L825.20,457.78 L826.67,459.88 L828.13,462.01 L829.60,464.16 L831.07,466.35 L832.54,468.57 L834.01,470.82 L835.48,473.10 L836.95,475.41 L838.42,477.76 L839.89,480.13 L841.36,482.54 L842.83,484.99 L844.30,487.46 L845.77,489.98 L847.23,492.52 L848.70,495.11 L850.17,497.72 L851.64,500.38 L853.11,503.07 L854.58,505.80 L856.05,508.57" stroke="#0072bd"/>
<path d="M122.90,304.27 L124.37,304.28 L125.84,304.28 L127.31,304.29 L128.78,304.29 L130.25,304.29 L131.72,304.30 L133.18,304.30 L134.65,304.31 L136.12,304.31 L137.59,304.32 L139.06,304.32 L140.53,304.32 L142.00,304.33 L143.47,304.33 L144.94,304.34 L146.41,304.34 L147.88,304.35 L149.35,304.35 L150.82,304.36 L152.28,304.36 L153.75,304.37 L155.22,304.37 L156.69,304.38 L158.16,304.38 L159.63,304.39 L161.10,304.39 L162.57,304.40 L164.04,304.40 L165.51,304.41 L166.98,304.42 L168.45,304.42 L169.92,304.43 L171.38,304.43 L172.85,304.44 L174.32,304.45 L175.79,304.45 L177.26,304.46 L178.73,304.46 L180.20,304.47 L181.67,304.48 L183.14,304.48 L184.61,304.49 L186.08,304.50 L187.55,304.50 L189.02,304.51 L190.48,304.52 L191.95,304.53 L193.42,304.53 L194.89,304.54 L196.36,304.55 L197.83,304.56 L199.30,304.56 L200.77,304.57 L202.24,304.58 L203.71,304.59 L205.18,304.60 L206.65,304.60 L208.12,304.61 L209.59,304.62 L211.05,304.63 L212.52,304.64 L213.99,304.65 L215.46,304.66 L216.93,304.66 L218.40,304.67 L219.87,304.68 L221.34,304.69 L222.81,304.70 L224.28,304.71 L225.75,304.72 L227.22,304.73 L228.69,304.74 L230.15,304.75 L231.62,304.76 L233.09,304.77 L234.56,304.78 L236.03,304.80 L237.50,304.81 L238.97,304.82 L240.44,304.83 L241.91,304.84 L243.38,304.85 L244.85,304.86 L246.32,304.88 L247.79,304.89 L249.25,304.90 L250.72,304.91 L252.19,304.93 L253.66,304.94 L255.13,304.95 L256.60,304.97 L258.07,304.98 L259.54,304.99 L261.01,305.01 L262.48,305.02 L263.95,305.03 L265.42,305.05 L266.89,305.06 L268.35,305.08 L269.82,305.09 L271.29,305.11 L272.76,305.12 L274.23,305.14 L275.70,305.15 L277.17,305.17 L278.64,305.19 L280.11,305.20 L281.58,305.22 L283.05,305.24 L284.52,305.25 L285.99,305.27 L287.45,305.29 L288.92,305.31 L290.39,305.33 L291.86,305.34 L293.33,305.36 L294.80,305.38 L296.27,305.40 L297.74,305.42 L299.21,305.44 L300.68,305.46 L302.15,305.48 L303.62,305.50 L305.09,305.52 L306.55,305.54 L308.02,305.56 L309.49,305.58 L310.96,305.61 L312.43,305.63 L313.90,305.65 L315.37,305.67 L316.84,305.70 L318.31,305.72 L319.78,305.74 L321.25,305.77 L322.72,305.79 L324.19,305.82 L325.65,305.84 L327.12,305.87 L328.59,305.89 L330.06,305.92 L331.53,305.95 L333.00,305.97 L334.47,306.00 L335.94,306.03 L337.41,306.05 L338.88,306.08 L340.35,306.11 L341.82,306.14 L343.29,306.17 L344.76,306.20 L346.22,306.23 L347.69,306.26 L349.16,306.29 L350.63,306.32 L352.10,306.35 L353.57,306.39 L355.04,306.42 L356.51,306.45 L357.98,306.49 L359.45,306.52 L360.92,306.55 L362.39,306.59 L363.86,306.62 L365.32,306.66 L366.79,306.70 L368.26,306.73 L369.73,306.77 L371.20,306.81 L372.67,306.84 L374.14,306.88 L375.61,306.92 L377.08,306.96 L378.55,307.00 L380.02,307.04 L381.49,307.08 L382.96,307.13 L384.42,307.17 L385.89,307.21 L387.36,307.25 L388.83,307.30 L390.30,307.34 L391.77,307.39 L393.24,307.43 L394.71,307.48 L396.18,307.52 L397.65,307.57 L399.12,307.62 L400.59,307.67 L402.06,307.72 L403.52,307.77 L404.99,307.82 L406.46,307.87 L407.93,307.92 L409.40,307.97 L410.87,308.02 L412.34,308.08 L413.81,308.13 L415.28,308.19 L416.75,308.24 L418.22,308.30 L419.69,308.35 L421.16,308.41 L422.62,308.47 L424.09,308.53 L425.56,308.59 L427.03,308.65 L428.50,308.71 L429.97,308.77 L431.44,308.83 L432.91,308.90 L434.38,308.96 L435.85,309.02 L437.32,309.09 L438.79,309.16 L440.26,309.22 L441.72,309.29 L443.19,309.36 L444.66,309.43 L446.13,309.50 L447.60,309.57 L449.07,309.64 L450.54,309.71 L452.01,309.79 L453.48,309.86 L454.95,309.94 L456.42,310.01 L457.89,310.09 L459.36,310.17 L460.82,310.25 L462.29,310.33 L463.76,310.41 L465.23,310.49 L466.70,310.57 L468.17,310.66 L469.64,310.74 L471.11,310.83 L472.58,310.91 L474.05,311.00 L475.52,311.09 L476.99,311.18 L478.46,311.27 L479.92,311.36 L481.39,311.45 L482.86,311.54 L484.33,311.64 L485.80,311.73 L487.27,311.83 L488.74,311.93 L490.21,312.03 L491.68,312.13 L493.15,312.23 L494.62,312.33 L496.09,312.44 L497.56,312.54 L499.03,312.65 L500.49,312.75 L501.96,312.86 L503.43,312.97 L504.90,313.08 L506.37,313.20 L507.84,313.31 L509.31,313.43 L510.78,313.54 L512.25,313.66 L513.72,313.78 L515.19,313.90 L516.66,314.02 L518.13,314.14 L519.59,314.27 L521.06,314.39 L522.53,314.52 L524.00,314.65 L525.47,314.78 L526.94,314.91 L528.41,315.05 L529.88,315.18 L531.35,315.32 L532.82,315.46 L534.29,315.60 L535.76,315.74 L537.23,315.89 L538.69,316.03 L540.16,316.18 L541.63,316.33 L543.10,316.48 L544.57,316.63 L546.04,316.79 L547.51,316.94 L548.98,317.10 L550.45,317.26 L551.92,317.42 L553.39,317.59 L554.86,317.76 L556.33,317.92 L557.79,318.09 L559.26,318.27 L560.73,318.44 L562.20,318.62 L563.67,318.80 L565.14,318.98 L566.61,319.16 L568.08,319.35 L569.55,319.54 L571.02,319.73 L572.49,319.92 L573.96,320.12 L575.43,320.32 L576.89,320.52 L578.36,320.72 L579.83,320.93 L581.30,321.13 L582.77,321.35 L584.24,321.56 L585.71,321.78 L587.18,322.00 L588.65,322.22 L590.12,322.44 L591.59,322.67 L593.06,322.90 L594.53,323.14 L595.99,323.37 L597.46,323.61 L598.93,323.86 L600.40,324.10 L601.87,324.35 L603.34,324.61 L604.81,324.86 L606.28,325.12 L607.75,325.39 L609.22,325.65 L610.69,325.92 L612.16,326.20 L613.63,326.47 L615.09,326.75 L616.56,327.04 L618.03,327.33 L619.50,327.62 L620.97,327.92 L622.44,328.22 L623.91,328.52 L625.38,328.83 L626.85,329.14 L628.32,329.46 L629.79,329.78 L631.26,330.10 L632.73,330.43 L634.19,330.77 L635.66,331.11 L637.13,331.45 L638.60,331.80 L640.07,332.15 L641.54,332.51 L643.01,332.87 L644.48,333.24 L645.95,333.61 L647.42,333.98 L648.89,334.37 L650.36,334.75 L651.83,335.15 L653.30,335.54 L654.76,335.95 L656.23,336.36 L657.70,336.77 L659.17,337.19 L660.64,337.61 L662.11,338.05 L663.58,338.48 L665.05,338.93 L666.52,339.38 L667.99,339.83 L669.46,340.29 L670.93,340.76 L672.40,341.23 L673.86,341.72 L675.33,342.20 L676.80,342.70 L678.27,343.20 L679.74,343.71 L681.21,344.22 L682.68,344.74 L684.15,345.27 L685.62,345.81 L687.09,346.35 L688.56,346.90 L690.03,347.46 L691.50,348.03 L692.96,348.60 L694.43,349.18 L695.90,349.77 L697.37,350.37 L698.84,350.98 L700.31,351.59 L701.78,352.21 L703.25,352.85 L704.72,353.49 L706.19,354.14 L707.66,354.79 L709.13,355.46 L710.60,356.14 L712.06,356.82 L713.53,357.52 L715.00,358.22 L716.47,358.94 L717.94,359.66 L719.41,360.40 L720.88,361.14 L722.35,361.90 L723.82,362.66 L725.29,363.44 L726.76,364.23 L728.23,365.03 L729.70,365.83 L731.16,366.65 L732.63,367.49 L734.10,368.33 L735.57,369.18 L737.04,370.05 L738.51,370.93 L739.98,371.82 L741.45,372.72 L742.92,373.64 L744.39,374.57 L745.86,375.51 L747.33,376.46 L748.80,377.43 L750.26,378.41 L751.73,379.40 L753.20,380.41 L754.67,381.44 L756.14,382.47 L757.61,383.52 L759.08,384.59 L760.55,385.67 L762.02,386.76 L763.49,387.87 L764.96,389.00 L766.43,390.14 L767.90,391.30 L769.36,392.47 L770.83,393.66 L772.30,394.87 L773.77,396.09 L775.24,397.33 L776.71,398.59 L778.18,399.87 L779.65,401.16 L781.12,402.47 L782.59,403.80 L784.06,405.14 L785.53,406.51 L787.00,407.90 L788.47,409.30 L789.93,410.72 L791.40,412.17 L792.87,413.63 L794.34,415.12 L795.81,416.62 L797.28,418.15 L798.75,419.69 L800.22,421.26 L801.69,422.85 L803.16,424.46 L804.63,426.10 L806.10,427.76 L807.57,429.44 L809.03,431.14 L810.50,432.87 L811.97,434.62 L813.44,436.40 L814.91,438.20 L816.38,440.02 L817.85,441.88 L819.32,443.75 L820.79,445.66 L822.26,447.59 L823.73,449.54 L825.20,451.53 L826.67,453.54 L828.13,455.58 L829.60,457.65 L831.07,459.74 L832.54,461.87 L834.01,464.02 L835.48,466.21 L836.95,468.43 L838.42,470.67 L839.89,472.95 L841.36,475.26 L842.83,477.60 L844.30,479.98 L845.77,482.39 L847.23,484.83 L848.70,487.30 L850.17,489.81 L851.64,492.36 L853.11,494.94 L854.58,497.55 L856.05,500.21" stroke="#d95319"/>
<path d="M122.90,304.30 L124.37,304.31 L125.84,304.31 L127.31,304.32 L128.78,304.32 L130.25,304.33 L131.72,304.33 L133.18,304.34 L134.65,304.34 L136.12,304.34 L137.59,304.35 L139.06,304.35 L140.53,304.36 L142.00,304.36 L143.47,304.37 L144.94,304.37 L146.41,304.38 L147.88,304.38 L149.35,304.39 L150.82,304.40 L152.28,304.40 L153.75,304.41 L155.22,304.41 L156.69,304.42 L158.16,304.42 L159.63,304.43 L161.10,304.44 L162.57,304.44 L164.04,304.45 L165.51,304.45 L166.98,304.46 L168.45,304.47 L169.92,304.47 L171.38,304.48 L172.85,304.49 L174.32,304.49 L175.79,304.50 L177.26,304.51 L178.73,304.51 L180.20,304.52 L181.67,304.53 L183.14,304.54 L184.61,304.54 L186.08,304.55 L187.55,304.56 L189.02,304.57 L190.48,304.57 L191.95,304.58 L193.42,304.59 L194.89,304.60 L196.36,304.61 L197.83,304.62 L199.30,304.62 L200.77,304.63 L202.24,304.64 L203.71,304.65 L205.18,304.66 L206.65,304.67 L208.12,304.68 L209.59,304.69 L211.05,304.70 L212.52,304.71 L213.99,304.72 L215.46,304.73 L216.93,304.74 L218.40,304.75 L219.87,304.76 L221.34,304.77 L222.81,304.78 L224.28,304.79 L225.75,304.80 L227.22,304.81 L228.69,304.82 L230.15,304.83 L231.62,304.85 L233.09,304.86 L234.56,304.87 L236.03,304.88 L237.50,304.89 L238.97,304.91 L240.44,304.92 L241.91,304.93 L243.38,304.95 L244.85,304.96 L246.32,304.97 L247.79,304.99 L249.25,305.00 L250.72,305.01 L252.19,305.03 L253.66,305.04 L255.13,305.06 L256.60,305.07 L258.07,305.09 L259.54,305.10 L261.01,305.12 L262.48,305.13 L263.95,305.15 L265.42,305.16 L266.89,305.18 L268.35,305.20 L269.82,305.21 L271.29,305.23 L272.76,305.25 L274.23,305.26 L275.70,305.28 L277.17,305.30 L278.64,305.32 L280.11,305.33 L281.58,305.35 L283.05,305.37 L284.52,305.39 L285.99,305.41 L287.45,305.43 L288.92,305.45 L290.39,305.47 L291.86,305.49 L293.33,305.51 L294.80,305.53 L296.27,305.55 L297.74,305.57 L299.21,305.60 L300.68,305.62 L302.15,305.64 L303.62,305.66 L305.09,305.68 L306.55,305.71 L308.02,305.73 L309.49,305.76 L310.96,305.78 L312.43,305.80 L313.90,305.83 L315.37,305.85 L316.84,305.88 L318.31,305.91 L319.78,305.93 L321.25,305.96 L322.72,305.99 L324.19,306.01 L325.65,306.04 L327.12,306.07 L328.59,306.10 L330.06,306.13 L331.53,306.15 L333.00,306.18 L334.47,306.21 L335.94,306.24 L337.41,306.28 L338.88,306.31 L340.35,306.34 L341.82,306.37 L343.29,306.40 L344.76,306.44 L346.22,306.47 L347.69,306.50 L349.16,306.54 L350.63,306.57 L352.10,306.61 L353.57,306.64 L355.04,306.68 L356.51,306.71 L357.98,306.75 L359.45,306.79 L360.92,306.83 L362.39,306.86 L363.86,306.90 L365.32,306.94 L366.79,306.98 L368.26,307.02 L369.73,307.06 L371.20,307.10 L372.67,307.15 L374.14,307.19 L375.61,307.23 L377.08,307.28 L378.55,307.32 L380.02,307.36 L381.49,307.41 L382.96,307.46 L384.42,307.50 L385.89,307.55 L387.36,307.60 L388.83,307.64 L390.30,307.69 L391.77,307.74 L393.24,307.79 L394.71,307.84 L396.18,307.89 L397.65,307.95 L399.12,308.00 L400.59,308.05 L402.06,308.11 L403.52,308.16 L404.99,308.21 L406.46,308.27 L407.93,308.33 L409.40,308.38 L410.87,308.44 L412.34,308.50 L413.81,308.56 L415.28,308.62 L416.75,308.68 L418.22,308.74 L419.69,308.80 L421.16,308.87 L422.62,308.93 L424.09,308.99 L425.56,309.06 L427.03,309.13 L428.50,309.19 L429.97,309.26 L431.44,309.33 L432.91,309.40 L434.38,309.47 L435.85,309.54 L437.32,309.61 L438.79,309.68 L440.26,309.75 L441.72,309.83 L443.19,309.90 L444.66,309.98 L446.13,310.06 L447.60,310.13 L449.07,310.21 L450.54,310.29 L452.01,310.37 L453.48,310.45 L454.95,310.53 L456.42,310.62 L457.89,310.70 L459.36,310.79 L460.82,310.87 L462.29,310.96 L463.76,311.05 L465.23,311.14 L466.70,311.23 L468.17,311.32 L469.64,311.41 L471.11,311.50 L472.58,311.60 L474.05,311.69 L475.52,311.79 L476.99,311.89 L478.46,311.98 L479.92,312.08 L481.39,312.19 L482.86,312.29 L484.33,312.39 L485.80,312.49 L487.27,312.60 L488.74,312.71 L490.21,312.82 L491.68,312.92 L493.15,313.04 L494.62,313.15 L496.09,313.26 L497.56,313.37 L499.03,313.49 L500.49,313.61 L501.96,313.73 L503.43,313.85 L504.90,313.97 L506.37,314.09 L507.84,314.21 L509.31,314.34 L510.78,314.47 L512.25,314.60 L513.72,314.73 L515.19,314.86 L516.66,314.99 L518.13,315.13 L519.59,315.26 L521.06,315.40 L522.53,315.54 L524.00,315.68 L525.47,315.83 L526.94,315.97 L528.41,316.12 L529.88,316.27 L531.35,316.42 L532.82,316.57 L534.29,316.72 L535.76,316.88 L537.23,317.04 L538.69,317.20 L540.16,317.36 L541.63,317.52 L543.10,317.69 L544.57,317.85 L546.04,318.02 L547.51,318.20 L548.98,318.37 L550.45,318.55 L551.92,318.72 L553.39,318.91 L554.86,319.09 L556.33,319.27 L557.79,319.46 L559.26,319.65 L560.73,319.84 L562.20,320.04 L563.67,320.24 L565.14,320.43 L566.61,320.64 L568.08,320.84 L569.55,321.05 L571.02,321.26 L572.49,321.47 L573.96,321.69 L575.43,321.91 L576.89,322.13 L578.36,322.35 L579.83,322.58 L581.30,322.81 L582.77,323.04 L584.24,323.28 L585.71,323.52 L587.18,323.76 L588.65,324.00 L590.12,324.25 L591.59,324.50 L593.06,324.76 L594.53,325.02 L595.99,325.28 L597.46,325.55 L598.93,325.81 L600.40,326.09 L601.87,326.36 L603.34,326.64 L604.81,326.93 L606.28,327.21 L607.75,327.50 L609.22,327.80 L610.69,328.10 L612.16,328.40 L613.63,328.71 L615.09,329.02 L616.56,329.33 L618.03,329.65 L619.50,329.98 L620.97,330.30 L622.44,330.64 L623.91,330.97 L625.38,331.31 L626.85,331.66 L628.32,332.01 L629.79,332.37 L631.26,332.73 L632.73,333.09 L634.19,333.46 L635.66,333.83 L637.13,334.21 L638.60,334.60 L640.07,334.99 L641.54,335.39 L643.01,335.79 L644.48,336.19 L645.95,336.61 L647.42,337.02 L648.89,337.45 L650.36,337.88 L651.83,338.31 L653.30,338.75 L654.76,339.20 L656.23,339.65 L657.70,340.11 L659.17,340.58 L660.64,341.05 L662.11,341.53 L663.58,342.01 L665.05,342.50 L666.52,343.00 L667.99,343.51 L669.46,344.02 L670.93,344.54 L672.40,345.06 L673.86,345.60 L675.33,346.14 L676.80,346.68 L678.27,347.24 L679.74,347.80 L681.21,348.37 L682.68,348.95 L684.15,349.54 L685.62,350.14 L687.09,350.74 L688.56,351.35 L690.03,351.97 L691.50,352.60 L692.96,353.24 L694.43,353.88 L695.90,354.54 L697.37,355.20 L698.84,355.87 L700.31,356.56 L701.78,357.25 L703.25,357.95 L704.72,358.66 L706.19,359.38 L707.66,360.11 L709.13,360.85 L710.60,361.60 L712.06,362.36 L713.53,363.14 L715.00,363.92 L716.47,364.71 L717.94,365.52 L719.41,366.33 L720.88,367.16 L722.35,368.00 L723.82,368.85 L725.29,369.71 L726.76,370.58 L728.23,371.47 L729.70,372.37 L731.16,373.28 L732.63,374.20 L734.10,375.14 L735.57,376.09 L737.04,377.05 L738.51,378.03 L739.98,379.02 L741.45,380.02 L742.92,381.04 L744.39,382.07 L745.86,383.11 L747.33,384.17 L748.80,385.25 L750.26,386.34 L751.73,387.44 L753.20,388.56 L754.67,389.70 L756.14,390.85 L757.61,392.01 L759.08,393.20 L760.55,394.40 L762.02,395.61 L763.49,396.85 L764.96,398.10 L766.43,399.37 L767.90,400.65 L769.36,401.96 L770.83,403.28 L772.30,404.62 L773.77,405.98 L775.24,407.35 L776.71,408.75 L778.18,410.17 L779.65,411.60 L781.12,413.06 L782.59,414.53 L784.06,416.03 L785.53,417.55 L787.00,419.09 L788.47,420.65 L789.93,422.23 L791.40,423.83 L792.87,425.46 L794.34,427.11 L795.81,428.78 L797.28,430.47 L798.75,432.19 L800.22,433.94 L801.69,435.70 L803.16,437.49 L804.63,439.31 L806.10,441.15 L807.57,443.02 L809.03,444.91 L810.50,446.83 L811.97,448.78 L813.44,450.75 L814.91,452.75 L816.38,454.78 L817.85,456.84 L819.32,458.92 L820.79,461.04 L822.26,463.18 L823.73,465.36 L825.20,467.56 L826.67,469.79 L828.13,472.06 L829.60,474.36 L831.07,476.69 L832.54,479.05 L834.01,481.44 L835.48,483.87 L836.95,486.33 L838.42,488.83 L839.89,491.36 L841.36,493.93 L842.83,496.53 L844.30,499.17 L845.77,501.84 L847.23,504.56 L848.70,507.31 L850.17,510.10 L851.64,512.92 L853.11,515.79 L854.58,518.70 L856.05,521.64" stroke="#edb120"/>
</g>
<text x="117.0" y="309.3" font-size="13.89" text-anchor="end">0</text>
<text x="117.0" y="363.3" font-size="13.89" text-anchor="end">-1440</text>
<text x="117.0" y="417.3" font-size="13.89" text-anchor="end">-2880</text>
<text x="117.0" y="471.3" font-size="13.89" text-anchor="end">-4320</text>
<text x="110.9" y="526.5" font-size="13.89">10</text>
<text transform="translate(126.75,520.5) scale(1.1,1)" font-size="8.33">-3</text>
<text x="354.9" y="526.5" font-size="13.89">10</text>
<text transform="translate(370.75,520.5) scale(1.1,1)" font-size="8.33">-2</text>
<text x="599.7" y="526.5" font-size="13.89">10</text>
<text transform="translate(615.55,520.5) scale(1.1,1)" font-size="8.33">-1</text>
<text x="845.6" y="526.5" font-size="13.89">10</text>
<text transform="translate(861.45,520.5) scale(1.1,1)" font-size="8.33">0</text>
<text x="490" y="24.5" font-size="15.28" font-weight="bold" text-anchor="middle">Nominal and Perturbed Process Models</text>
<text x="490" y="46" font-size="13.89" text-anchor="middle" xml:space="preserve">From: u  To: y0</text>
<text x="490" y="550.5" font-size="15.28" text-anchor="middle">Frequency (rad/s)</text>
<text transform="translate(89,162.2) rotate(-90)" font-size="15.28" text-anchor="middle">Magnitude (dB)</text>
<text transform="translate(74,405) rotate(-90)" font-size="15.28" text-anchor="middle">Phase (deg)</text>
</svg></body></html>
